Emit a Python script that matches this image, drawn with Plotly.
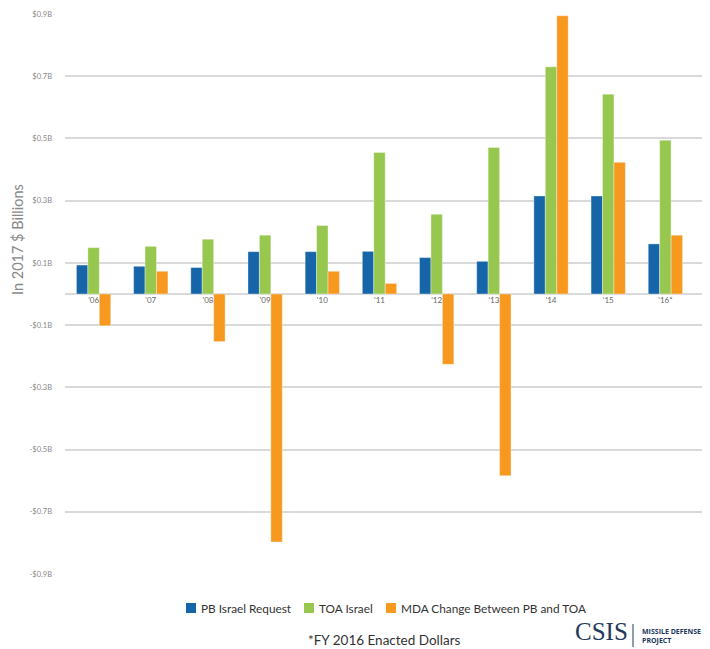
import plotly.graph_objects as go

years = ["'06", "'07", "'08", "'09", "'10", "'11", "'12", "'13", "'14", "'15", "'16*"]
pb_request = [0.093, 0.089, 0.085, 0.136, 0.136, 0.137, 0.117, 0.105, 0.315, 0.315, 0.161]
toa_israel = [0.149, 0.153, 0.176, 0.189, 0.220, 0.455, 0.256, 0.471, 0.730, 0.642, 0.494]
mda_change = [-0.102, 0.073, -0.153, -0.797, 0.073, 0.034, -0.226, -0.584, 0.894, 0.423, 0.189]

tick_vals = [0.9, 0.7, 0.5, 0.3, 0.1, -0.1, -0.3, -0.5, -0.7, -0.9]
tick_text = ["$0.9B", "$0.7B", "$0.5B", "$0.3B", "$0.1B", "-$0.1B", "-$0.3B", "-$0.5B", "-$0.7B", "-$0.9B"]

colors = ["#1565a8", "#97c74f", "#f7981f"]
names = ["PB Israel Request", "TOA Israel", "MDA Change Between PB and TOA"]
series = [pb_request, toa_israel, mda_change]

# page body has an 8px margin; figure is laid out in screen coords minus 8
W, H = 702, 641
L, T, B = 57, 5, 74
PW = W - L
PH = H - T - B
def px(xs):  # screen x -> paper x
    return (xs - 8 - L) / PW
def py(ys):  # screen y -> paper y
    return (H - B - (ys - 8)) / PH

fig = go.Figure()
for nm, vals, col in zip(names, series, colors):
    fig.add_trace(go.Bar(
        x=years, y=vals, name=nm, showlegend=False,
        marker=dict(color=col, line=dict(color="rgba(255,255,255,0.6)", width=0.6)),
    ))

shapes = []
annotations = []
# custom legend
leg_sq = [186, 304, 386]
leg_tx = [199, 317, 399]
for sx, tx, nm, col in zip(leg_sq, leg_tx, names, colors):
    shapes.append(dict(type="rect", xref="paper", yref="paper",
                       x0=px(sx), x1=px(sx + 10), y0=py(603), y1=py(613),
                       fillcolor=col, line=dict(width=0)))
    annotations.append(dict(text=nm, x=px(tx), y=py(608), xref="paper", yref="paper",
                            xanchor="left", yanchor="middle", showarrow=False,
                            font=dict(size=11.8, color="#333")))

annotations += [
    dict(text="In 2017 $ Billions", x=px(17), y=py(240), xref="paper", yref="paper",
         xanchor="center", yanchor="middle",
         showarrow=False, textangle=-90, font=dict(size=14.5, color="#888")),
    dict(text="*FY 2016 Enacted Dollars", x=px(384), y=py(640), xref="paper", yref="paper",
         xanchor="center", yanchor="middle", showarrow=False,
         font=dict(size=13.5, color="#333")),
    dict(text="CSIS", x=px(573), y=py(631), xref="paper", yref="paper",
         xanchor="left", yanchor="middle", showarrow=False,
         font=dict(size=25, color="#22385c", family="Liberation Serif, serif")),
    dict(text="<b>MISSILE DEFENSE</b><br><b>PROJECT</b>", x=px(640), y=py(636), xref="paper", yref="paper",
         xanchor="left", yanchor="middle", showarrow=False, align="left",
         font=dict(size=7, color="#22385c", family="Open Sans, sans-serif")),
]
shapes.append(dict(type="line", xref="paper", yref="paper", x0=px(633), x1=px(633),
                   y0=py(624), y1=py(647), line=dict(color="#22385c", width=1)))

fig.update_layout(
    width=W, height=H,
    margin=dict(l=L, r=0, t=T, b=B),
    plot_bgcolor="white", paper_bgcolor="white",
    barmode="group", bargap=0.4, bargroupgap=0,
    font=dict(family="Lato, sans-serif", color="#444"),
    showlegend=False,
    xaxis=dict(
        type="category", range=[-0.5, 10.78],
        anchor="free", position=0.5,
        showgrid=False, showline=False, ticks="", zeroline=False,
        tickfont=dict(size=8, color="#666"),
    ),
    yaxis=dict(
        range=[-0.903, 0.903],
        tickvals=tick_vals, ticktext=tick_text,
        showgrid=True, gridcolor="#d9d9d9", gridwidth=1.5,
        zeroline=True, zerolinecolor="#d9d9d9", zerolinewidth=1.5,
        showline=False, ticks="",
        ticklabelstandoff=12,
        tickfont=dict(size=7.5, color="#888"),
    ),
    shapes=shapes,
    annotations=annotations,
)

fig.write_html("out.html")
